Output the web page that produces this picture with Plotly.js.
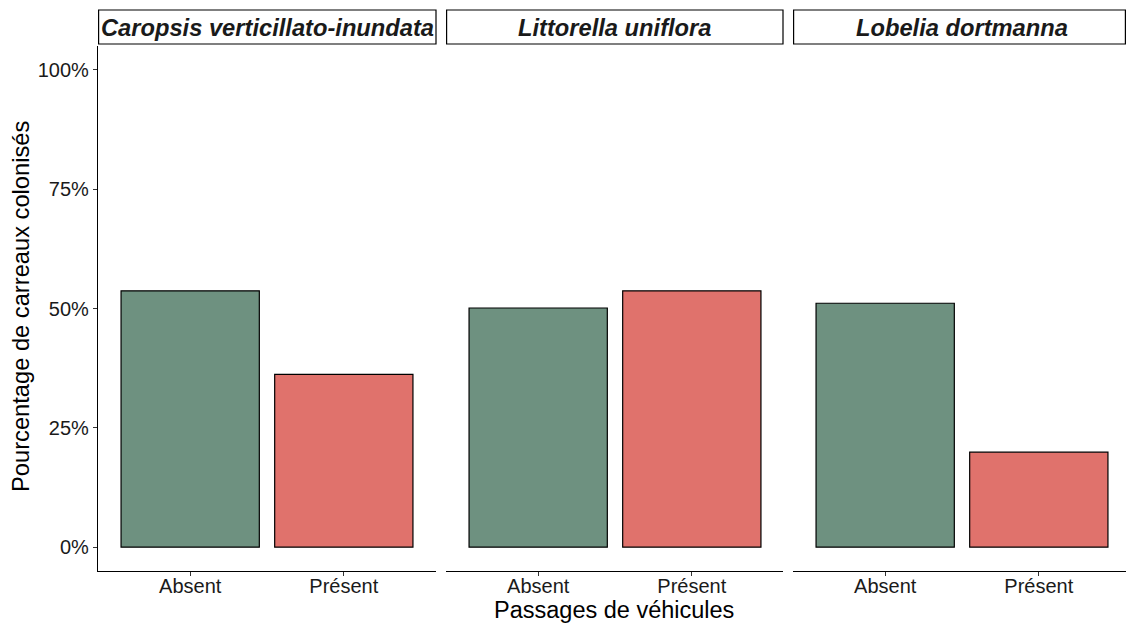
<!DOCTYPE html>
<html>
<head>
<meta charset="utf-8">
<script src="https://cdn.plot.ly/plotly-3.0.1.min.js"></script>
<style>html,body{margin:0;padding:0;background:#fff;}#chart{width:1126px;height:625px;}</style>
</head>
<body>
<div id="chart"></div>
<script>
const species = ['Caropsis verticillato-inundata', 'Littorella uniflora', 'Lobelia dortmanna'];
const categories = ['Absent', 'Présent'];
const caropsisValues = [53.7, 36.2];
const littorellaValues = [50.1, 53.7];
const lobeliaValues = [51.1, 19.9];
const yTicks = [0, 25, 50, 75, 100];
const yTickLabels = ['0%', '25%', '50%', '75%', '100%'];
const xTitle = 'Passages de véhicules';
const yTitle = 'Pourcentage de carreaux colonisés';

const seriesValues = [caropsisValues, littorellaValues, lobeliaValues];
const fillColors = ['#6E9180', '#E0726C'];
const FONT = 'Liberation Sans, Arial, Helvetica, sans-serif';

const W = 1126, H = 625;
const ML = 98, MR = 0, MT = 46, MB = 54;
const PW = W - ML - MR, PH = H - MT - MB;
const px = p => (p - ML) / PW;
const py = p => (H - MB - p) / PH;

const panels = [[98, 436], [446, 783], [793, 1126]];
const pxPerUnit = 338 / 2.2;

const traces = seriesValues.map((vals, i) => ({
  type: 'bar',
  x: categories,
  y: vals,
  xaxis: i === 0 ? 'x' : 'x' + (i + 1),
  yaxis: 'y',
  width: 0.9,
  marker: {color: fillColors, line: {color: '#000', width: 1.2}},
  hoverinfo: 'x+y',
  showlegend: false
}));

const layout = {
  width: W, height: H,
  margin: {l: ML, r: MR, t: MT, b: MB},
  paper_bgcolor: '#fff', plot_bgcolor: '#fff',
  font: {family: FONT, color: '#000'},
  bargap: 0.1,
  yaxis: {
    range: [-5, 105], tickmode: 'array', tickvals: yTicks, ticktext: yTickLabels,
    showgrid: false, zeroline: false,
    showline: true, linecolor: '#000', linewidth: 1.2,
    ticks: 'outside', ticklen: 4, tickcolor: '#333', tickwidth: 1,
    tickfont: {size: 20, color: '#1a1a1a', family: FONT},
    fixedrange: true
  },
  shapes: [], annotations: []
};

panels.forEach((p, i) => {
  const key = i === 0 ? 'xaxis' : 'xaxis' + (i + 1);
  const widthPx = p[1] - p[0];
  layout[key] = {
    domain: [px(p[0]), px(p[1])],
    anchor: 'y',
    type: 'category',
    range: [-0.6, -0.6 + widthPx / pxPerUnit],
    showgrid: false, zeroline: false,
    showline: true, linecolor: '#000', linewidth: 1.2,
    ticks: 'outside', ticklen: 4, tickcolor: '#333', tickwidth: 1,
    ticklabelstandoff: -7,
    tickfont: {size: 20, color: '#1a1a1a', family: FONT},
    fixedrange: true
  };
  layout.shapes.push({
    type: 'rect', xref: 'paper', yref: 'paper',
    x0: px(p[0] + 0.6), x1: px(Math.min(p[1], 1125.4)), y0: py(44), y1: py(10),
    line: {color: '#000', width: 1.2}, fillcolor: '#fff'
  });
  layout.annotations.push({
    xref: 'paper', yref: 'paper',
    x: px((p[0] + Math.min(p[1] , 1130)) / 2 + (i === 2 ? 2 : 0)), y: py(28),
    text: '<b><i>' + species[i] + '</i></b>', showarrow: false,
    xanchor: 'center', yanchor: 'middle',
    font: {size: 23.7, color: '#1a1a1a', family: FONT}
  });
});

layout.annotations.push({
  xref: 'paper', yref: 'paper', x: px(614), y: py(610),
  text: xTitle, showarrow: false, xanchor: 'center', yanchor: 'middle',
  font: {size: 23.5, color: '#000', family: FONT}
});
layout.annotations.push({
  xref: 'paper', yref: 'paper', x: px(21), y: py(307),
  text: yTitle, showarrow: false, textangle: -90, xanchor: 'center', yanchor: 'middle',
  font: {size: 23.7, color: '#000', family: FONT}
});

Plotly.newPlot('chart', traces, layout, {displayModeBar: false, staticPlot: true});
</script>
</body>
</html>
